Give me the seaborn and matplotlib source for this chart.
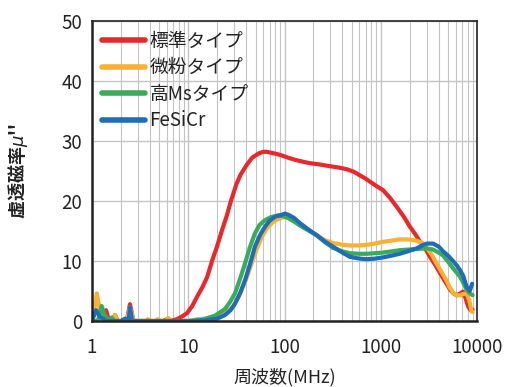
import numpy as np
import pandas as pd
import matplotlib
matplotlib.use("Agg")
import matplotlib.pyplot as plt
import seaborn as sns
from matplotlib.ticker import FixedLocator, FixedFormatter, LogLocator, NullFormatter

# ---- data ----
series_names = ["標準タイプ", "微粉タイプ", "高Msタイプ", "FeSiCr"]

red_f = [1.0, 1.3, 1.4, 1.5, 1.65, 1.73, 1.85, 2.3, 2.48, 2.7, 3.0, 5.5, 6.0, 6.5, 7.6, 8.5, 9.7, 11, 12.3, 14, 15.7, 17.9, 19.8,
         22.5, 25.2, 28, 31.8, 35, 40.4, 46, 53.5, 60, 65, 75, 89.6, 110, 133, 160, 184, 230, 297, 360, 443, 520, 605, 700,
         776, 900, 1058, 1250, 1470, 1750, 2010, 2300, 2560, 2770, 3250, 3700, 4150, 4700, 5270, 5700, 6150, 6700, 7150,
         7600, 8100, 8600, 9000]
red_v = [0.0, 0.0, 1.8, 0.0, 0.0, 1.0, 0.0, 0.0, 2.8, 0.0, 0.0, 0.0, 0.3, 0.0, 0.3, 0.7, 1.3, 2.5, 4.0, 5.6, 7.3, 10.3, 12.3,
         15.2, 17.6, 20.2, 22.9, 24.4, 26.0, 27.2, 27.9, 28.2, 28.2, 28.0, 27.7, 27.2, 26.8, 26.5, 26.3, 26.1, 25.8, 25.6,
         25.3, 24.9, 24.3, 23.7, 23.2, 22.5, 21.8, 20.5, 19.0, 17.3, 15.7, 14.4, 13.2, 12.6, 10.7, 9.3, 7.9, 6.5, 5.2, 4.6,
         4.3, 4.6, 4.9, 3.8, 2.4, 1.8, 1.9]

org_f = [1.0, 1.05, 1.12, 1.2, 1.3, 1.6, 1.73, 1.85, 2.3, 2.48, 2.7, 3.6, 3.8, 4.0, 4.6, 4.8, 5.0, 5.8, 6.2, 6.6, 11, 12.3,
         15, 18.4, 22, 26, 29, 34, 40, 46, 51.5, 58, 66, 76, 86, 97, 110, 130, 160, 216, 260, 318, 400, 477, 600, 715,
         870, 1055, 1300, 1570, 1900, 2360, 2700, 3000, 3400, 3800, 4300, 4800, 5200, 5700, 6200, 6650, 7200, 7800,
         8300, 8800, 9000]
org_v = [0.0, 1.5, 4.6, 2.0, 0.0, 0.0, 1.0, 0.0, 0.0, 2.3, 0.0, 0.0, 0.3, 0.0, 0.0, 0.3, 0.0, 0.0, 0.5, 0.0, 0.0, 0.3,
         0.4, 0.7, 1.1, 1.7, 2.3, 4.3, 7.0, 9.8, 12.0, 14.0, 15.5, 16.5, 17.0, 17.3, 17.2, 16.6, 15.6, 14.3, 13.5, 13.0,
         12.7, 12.6, 12.6, 12.7, 12.9, 13.2, 13.4, 13.6, 13.6, 13.4, 13.0, 12.2, 11.0, 9.6, 8.1, 6.8, 5.6, 4.6, 4.3, 4.3,
         4.5, 4.6, 3.5, 1.6, 1.5]

grn_f = [1.0, 1.15, 1.26, 1.35, 1.5, 1.6, 1.7, 2.4, 2.5, 2.6, 10, 14, 19, 24.1, 27, 30.6, 34.5, 38.9, 43.5, 49.3, 55, 62.6,
         72, 86, 96, 108, 125, 145, 216, 260, 318, 400, 477, 600, 715, 870, 1055, 1300, 1570, 1900, 2360, 3000, 3500,
         4000, 4450, 5000, 5700, 6650, 7200, 7800, 8400, 9000]
grn_v = [0.0, 0.0, 2.5, 1.0, 0.0, 0.6, 0.0, 0.0, 1.5, 0.0, 0.0, 0.2, 0.9, 2.0, 3.1, 4.6, 7.0, 9.6, 12.2, 14.6, 16.0, 16.8,
         17.3, 17.6, 17.5, 17.2, 16.6, 15.9, 14.3, 13.2, 12.2, 11.6, 11.3, 11.2, 11.2, 11.3, 11.4, 11.6, 11.8, 11.9, 12.0,
         12.1, 11.9, 11.4, 10.9, 9.9, 8.7, 7.4, 6.4, 5.2, 4.6, 4.3]

blu_f = [1.0, 1.1, 1.2, 1.4, 1.6, 2.0, 2.2, 2.4, 2.48, 2.6, 10, 15, 20, 24.1, 27.5, 30.6, 34.5, 38.9, 43.7, 49.3, 55.6, 62.6,
         70, 80, 93.5, 101, 110, 125, 145, 175, 216, 260, 318, 400, 477, 600, 715, 870, 1055, 1300, 1570, 1900, 2360,
         2700, 3000, 3500, 4000, 4450, 5000, 5700, 6200, 6650, 7200, 7800, 8400, 8900]
blu_v = [0.0, 1.8, 0.8, 0.0, 0.0, 0.0, 0.4, 0.0, 2.3, 0.0, 0.0, 0.1, 0.4, 1.0, 1.8, 2.9, 4.6, 6.8, 9.4, 12.4, 14.3, 15.7,
         16.7, 17.4, 17.7, 17.9, 17.7, 17.2, 16.3, 15.3, 14.3, 13.3, 12.4, 11.4, 10.7, 10.4, 10.3, 10.4, 10.6, 10.9, 11.2,
         11.6, 12.1, 12.6, 12.9, 12.9, 12.4, 11.6, 10.9, 9.9, 9.2, 8.5, 7.5, 5.7, 5.0, 6.2]

x_ticks = [1, 10, 100, 1000, 10000]
x_tick_labels = ["1", "10", "100", "1000", "10000"]
y_ticks = [0, 10, 20, 30, 40, 50]

colors = ["#e8292b", "#f8b133", "#3aab5a", "#1e6db6"]

frames = []
for name, f, v in zip(series_names, [red_f, org_f, grn_f, blu_f], [red_v, org_v, grn_v, blu_v]):
    frames.append(pd.DataFrame({"f": f, "v": v, "s": name}))
df = pd.concat(frames, ignore_index=True)

sns.set_style("white")
plt.rcParams["font.family"] = ["Noto Sans CJK JP", "DejaVu Sans"]

fig = plt.figure(figsize=(5.13, 3.87), dpi=100)
ax = fig.add_axes([92 / 513, 66 / 387, 385 / 513, 300 / 387])

sns.lineplot(data=df, x="f", y="v", hue="s", hue_order=series_names, palette=colors,
             estimator=None, sort=False, linewidth=3.0, ax=ax)

ax.set_xscale("log")
ax.set_xlim(1, 10000)
ax.set_ylim(0, 50)
ax.xaxis.set_major_locator(FixedLocator(x_ticks))
ax.xaxis.set_major_formatter(FixedFormatter(x_tick_labels))
ax.xaxis.set_minor_locator(LogLocator(base=10, subs=np.arange(2, 10)))
ax.xaxis.set_minor_formatter(NullFormatter())
ax.set_yticks(y_ticks)

ax.grid(True, which="major", color="#c4c4c4", linewidth=1.0)
ax.grid(True, which="minor", axis="x", color="#c4c4c4", linewidth=0.8)
ax.set_axisbelow(True)

for sp in ax.spines.values():
    sp.set_color("#222222")
    sp.set_linewidth(1.2)
ax.spines["left"].set_linewidth(1.8)
ax.spines["bottom"].set_linewidth(1.8)

ax.tick_params(axis="both", which="both", length=0, labelsize=13.5, colors="#222222")
ax.tick_params(axis="x", pad=11.5)
ax.tick_params(axis="y", pad=7)

ax.set_xlabel("周波数(MHz)", fontsize=13, labelpad=7, color="#222222")
ax.set_ylabel("虚透磁率$\\mu$''", fontsize=13, fontweight="bold", labelpad=23, color="#222222")

leg = ax.legend(loc="upper left", bbox_to_anchor=(0.025, 0.968), frameon=False, fontsize=13.5,
                handlelength=2.3, handletextpad=0.25, labelspacing=0.3, borderpad=0, borderaxespad=0)
for line in leg.get_lines():
    line.set_linewidth(4)
for t in leg.get_texts():
    t.set_color("#222222")

fig.savefig("out.png", dpi=100)
